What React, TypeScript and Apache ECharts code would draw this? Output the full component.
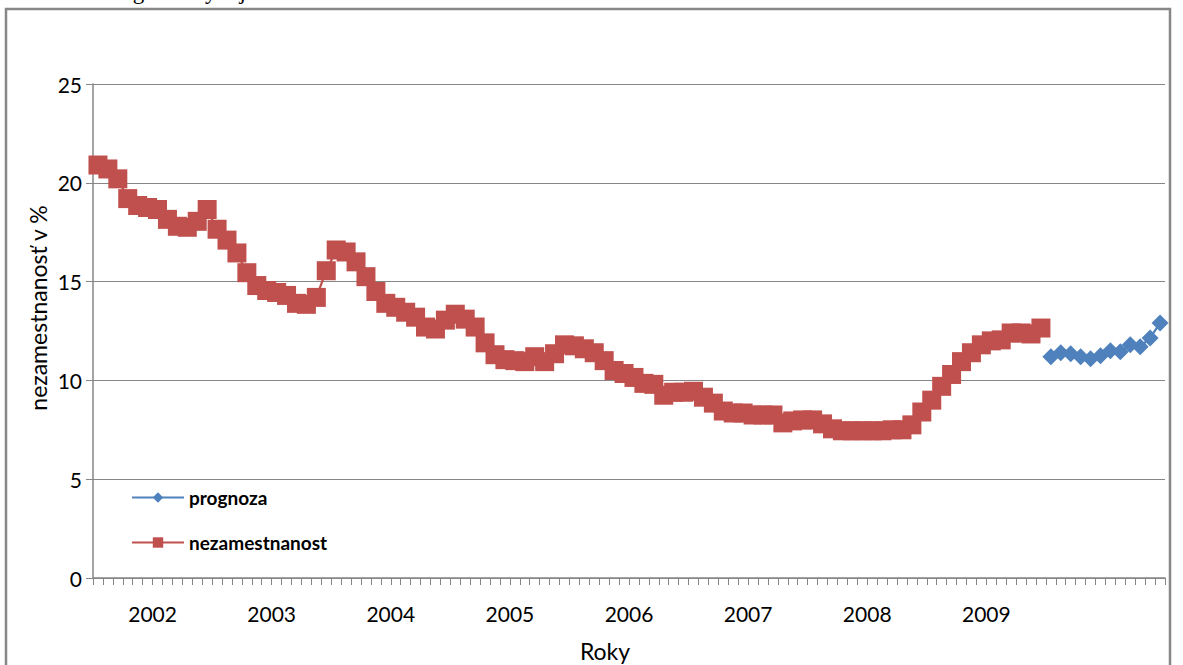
import React, { useEffect, useRef } from "react";
import * as echarts from "echarts";

const years = ["2002", "2003", "2004", "2005", "2006", "2007", "2008", "2009", "2010"];
const yearTickLabels = ["2002", "2003", "2004", "2005", "2006", "2007", "2008", "2009", ""];
const monthNames = ["01", "02", "03", "04", "05", "06", "07", "08", "09", "10", "11", "12"];

// monthly registered unemployment 2002-01 .. 2009-12 (%)
const nezamestnanost = [
  20.9, 20.7, 20.2, 19.2, 18.85, 18.75, 18.65, 18.15, 17.8, 17.75, 18.05, 18.65,
  17.65, 17.1, 16.45, 15.45, 14.8, 14.55, 14.45, 14.3, 13.9, 13.85, 14.2, 15.55,
  16.6, 16.5, 16.0, 15.25, 14.5, 13.9, 13.7, 13.45, 13.2, 12.7, 12.6, 13.05,
  13.35, 13.1, 12.7, 11.9, 11.3, 11.05, 11.0, 10.95, 11.2, 10.95, 11.35, 11.8,
  11.75, 11.6, 11.4, 11.0, 10.5, 10.35, 10.15, 9.85, 9.8, 9.25, 9.4, 9.4,
  9.45, 9.15, 8.85, 8.45, 8.35, 8.35, 8.25, 8.25, 8.25, 7.85, 7.95, 8.0,
  8.0, 7.8, 7.55, 7.45, 7.45, 7.45, 7.45, 7.45, 7.5, 7.5, 7.75, 8.4,
  9.0, 9.7, 10.3, 10.95, 11.4, 11.8, 12.0, 12.05, 12.4, 12.4, 12.35, 12.65,
];

// forecast 2010-01 .. 2010-12 (%)
const prognoza = [11.2, 11.4, 11.35, 11.2, 11.1, 11.25, 11.5, 11.45, 11.8, 11.7, 12.15, 12.9];

const yTicks = [0, 5, 10, 15, 20, 25];

const months: string[] = [];
years.forEach((y) => monthNames.forEach((m) => months.push(`${y}-${m}`)));

const FONT = "Lato, 'Noto Sans', sans-serif";

export default function App() {
  const ref = useRef<HTMLDivElement>(null);

  useEffect(() => {
    if (!ref.current) return;
    const chart = echarts.init(ref.current, undefined, { renderer: "svg" });

    const redData = months.map((_, i) => (i < nezamestnanost.length ? nezamestnanost[i] : null));
    const blueData = months.map((_, i) =>
      i >= nezamestnanost.length ? prognoza[i - nezamestnanost.length] : null
    );

    chart.setOption({
      animation: false,
      backgroundColor: "#ffffff",
      textStyle: { fontFamily: FONT },
      grid: { left: 93, right: 18, top: 84, bottom: 87, containLabel: false },
      legend: {
        orient: "vertical",
        left: 126,
        top: 483,
        itemWidth: 52,
        itemHeight: 13,
        itemGap: 26,
        data: ["prognoza", "nezamestnanost"],
        textStyle: { fontSize: 19, color: "#000", fontFamily: FONT, fontWeight: "bold" },
      },
      xAxis: [
        {
          type: "category",
          data: months,
          boundaryGap: true,
          position: "bottom",
          axisLine: { lineStyle: { color: "#868686", width: 1.5 } },
          axisTick: { show: true, interval: 0, length: 7, lineStyle: { color: "#868686" } },
          axisLabel: { show: false },
          splitLine: { show: false },
        },
        {
          type: "category",
          data: yearTickLabels,
          boundaryGap: true,
          position: "bottom",
          axisLine: { show: false },
          axisTick: { show: false },
          axisLabel: { show: true, interval: 0, fontSize: 21, color: "#000", margin: 25, fontFamily: FONT },
          splitLine: { show: false },
        },
      ],
      yAxis: {
        type: "value",
        min: yTicks[0],
        max: yTicks[yTicks.length - 1],
        interval: 5,
        axisLine: { show: true, lineStyle: { color: "#868686", width: 1.5 } },
        axisTick: { show: true, length: 7, lineStyle: { color: "#868686" } },
        axisLabel: { fontSize: 21, color: "#000", margin: 11, fontFamily: FONT },
        splitLine: { show: true, lineStyle: { color: "#868686", width: 1.2 } },
      },
      series: [
        {
          name: "prognoza",
          type: "line",
          data: blueData,
          symbol: "diamond",
          symbolSize: 17,
          showSymbol: true,
          showAllSymbol: true,
          connectNulls: false,
          lineStyle: { color: "#4F81BD", width: 2.25 },
          itemStyle: { color: "#4F81BD", borderColor: "#4F81BD", borderWidth: 0 },
          z: 3,
        },
        {
          name: "nezamestnanost",
          type: "line",
          data: redData,
          symbol: "rect",
          symbolSize: 19,
          showSymbol: true,
          showAllSymbol: true,
          connectNulls: false,
          lineStyle: { color: "#C0504D", width: 2.25 },
          itemStyle: { color: "#C0504D", borderColor: "#C0504D", borderWidth: 0 },
          z: 2,
        },
      ],
      graphic: [
        {
          type: "rect",
          shape: { x: 6, y: 9, width: 1164, height: 720 },
          style: { fill: "none", stroke: "#878787", lineWidth: 2.5 },
          silent: true,
          z: -1,
        },
        {
          type: "text",
          x: 14,
          y: 3,
          style: {
            text: "Graf č. 1 Prognóza vývoja nezamestnanosti v SR na rok 2010",
            font: "23px 'Liberation Serif', 'DejaVu Serif', serif",
            fill: "#000",
            textVerticalAlign: "bottom",
          },
          silent: true,
        },
        {
          type: "text",
          x: 38,
          y: 308,
          rotation: Math.PI / 2,
          style: {
            text: "nezamestnanosť v %",
            font: `23px ${FONT}`,
            fill: "#000",
            textAlign: "center",
            textVerticalAlign: "middle",
          },
          silent: true,
        },
        {
          type: "text",
          x: 605,
          y: 651,
          style: {
            text: "Roky",
            font: `23px ${FONT}`,
            fill: "#000",
            textAlign: "center",
            textVerticalAlign: "middle",
          },
          silent: true,
        },
      ],
    });

    return () => chart.dispose();
  }, []);

  return (
    <div
      ref={ref}
      style={{ position: "fixed", left: 0, top: 0, width: 1183, height: 665, background: "#fff" }}
    />
  );
}
